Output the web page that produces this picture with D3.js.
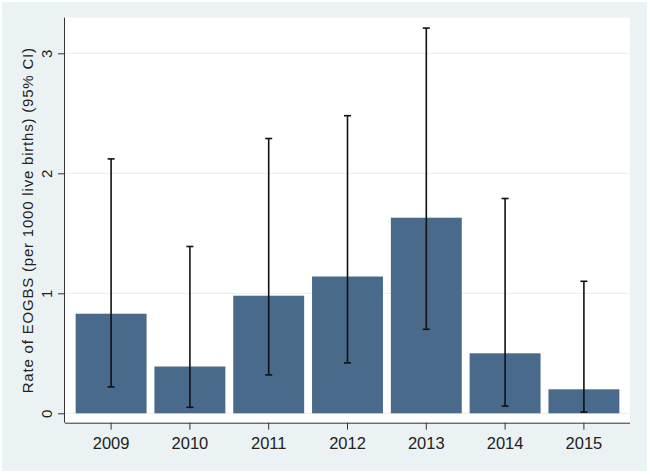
<!DOCTYPE html>
<html>
<head>
<meta charset="utf-8">
<script src="https://cdn.jsdelivr.net/npm/d3@7"></script>
<style>
body { margin: 0; background: #fff; }
text { font-family: "Liberation Sans", Arial, sans-serif; fill: #222; }
</style>
</head>
<body>
<div id="chart"></div>
<script>
const width = 650;
const height = 475;

// rates per 1000 live births with 95% CI
const years = ['2009', '2010', '2011', '2012', '2013', '2014', '2015'];
const rates = [0.83, 0.39, 0.98, 1.14, 1.63, 0.50, 0.20];
const lower = [0.22, 0.05, 0.32, 0.42, 0.70, 0.06, 0.01];
const upper = [2.12, 1.39, 2.29, 2.48, 3.21, 1.79, 1.10];
const yTicks = [0, 1, 2, 3];

const plot = { left: 65, right: 630, top: 17.7, bottom: 422.7 };

const svg = d3.select('#chart').append('svg').attr('width', width).attr('height', height);

// outer graph region
svg.append('rect').attr('x', 2).attr('y', 2).attr('width', 645).attr('height', 469).attr('fill', '#eaf2f3');
svg.append('rect')
  .attr('x', plot.left).attr('y', plot.top)
  .attr('width', plot.right - plot.left).attr('height', plot.bottom - plot.top)
  .attr('fill', '#fff');

const x = d3.scaleBand().domain(years).range([plot.left, plot.right]).paddingInner(0.1).paddingOuter(0.135);
const y = d3.scaleLinear().domain([0, 3]).range([413.3, 53.3]);

// grid lines
svg.selectAll('.grid')
  .data(yTicks)
  .enter()
  .append('line')
  .attr('class', 'grid')
  .attr('x1', plot.left).attr('x2', plot.right)
  .attr('y1', d => y(d)).attr('y2', d => y(d))
  .attr('stroke', '#e6eef0')
  .attr('stroke-width', 1);

const data = years.map((yr, i) => ({ year: yr, rate: rates[i], lo: lower[i], hi: upper[i] }));

// bars
svg.selectAll('.bar')
  .data(data)
  .enter()
  .append('rect')
  .attr('class', 'bar')
  .attr('x', d => x(d.year))
  .attr('y', d => y(d.rate))
  .attr('width', x.bandwidth())
  .attr('height', d => y(0) - y(d.rate))
  .attr('fill', '#496a8a');

// error bars
const cap = 3.5;
const mid = d => x(d.year) + x.bandwidth() / 2;
const err = svg.selectAll('.err').data(data).enter().append('g').attr('class', 'err')
  .attr('stroke', '#111').attr('stroke-width', 1.6);
err.append('line')
  .attr('x1', mid).attr('x2', mid)
  .attr('y1', d => y(d.lo)).attr('y2', d => y(d.hi));
err.append('line')
  .attr('x1', d => mid(d) - cap).attr('x2', d => mid(d) + cap)
  .attr('y1', d => y(d.hi)).attr('y2', d => y(d.hi));
err.append('line')
  .attr('x1', d => mid(d) - cap).attr('x2', d => mid(d) + cap)
  .attr('y1', d => y(d.lo)).attr('y2', d => y(d.lo));

// axes
const xAxis = svg.append('g')
  .attr('transform', `translate(0,${plot.bottom})`)
  .call(d3.axisBottom(x).tickSize(7).tickPadding(8).tickSizeOuter(0));
xAxis.select('.domain').attr('d', `M${plot.left},0.5H${plot.right}`).attr('stroke', '#333');
xAxis.selectAll('.tick line').attr('stroke', '#333');
xAxis.selectAll('.tick text').attr('font-size', 16.5).attr('fill', '#222');

const yAxis = svg.append('g')
  .attr('transform', `translate(${plot.left},0)`)
  .call(d3.axisLeft(y).tickValues(yTicks).tickSize(7).tickFormat(d3.format('d')));
yAxis.select('.domain').attr('d', `M-0.5,${plot.top}V${plot.bottom}`).attr('stroke', '#333');
yAxis.selectAll('.tick line').attr('stroke', '#333');
yAxis.selectAll('.tick text')
  .attr('x', null).attr('dy', null)
  .attr('transform', 'translate(-13,0) rotate(-90)')
  .attr('text-anchor', 'middle')
  .attr('font-size', 15).attr('fill', '#222');

svg.append('text')
  .attr('transform', `translate(32.5,${(plot.top + plot.bottom) / 2}) rotate(-90)`)
  .attr('text-anchor', 'middle')
  .attr('font-size', 15)
  .attr('letter-spacing', 0.8)
  .text('Rate of EOGBS (per 1000 live births) (95% CI)');
</script>
</body>
</html>
